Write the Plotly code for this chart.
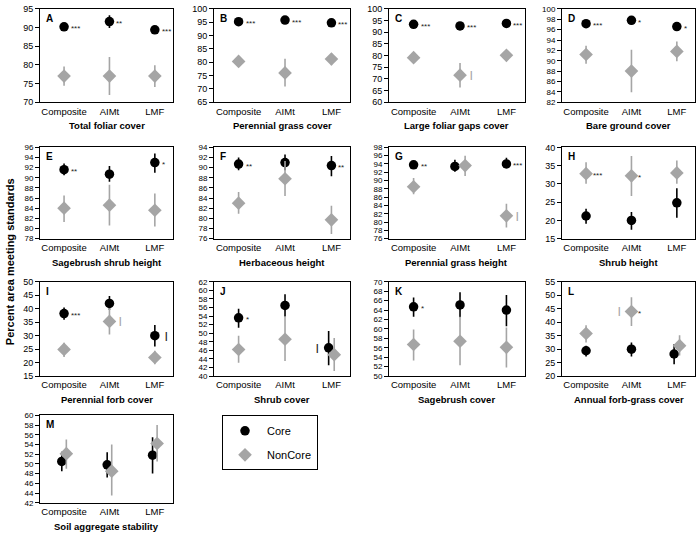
import plotly.graph_objects as go

W, H = 700, 546
FONT = "Liberation Sans, Arial, sans-serif"
GRAY = "#a5a5a5"

categories = ["Composite", "AIMt", "LMF"]
panel_ids = ["A", "B", "C", "D", "E", "F", "G", "H", "I", "J", "K", "L", "M"]
panel_titles = ["Total foliar cover", "Perennial grass cover", "Large foliar gaps cover",
                "Bare ground cover", "Sagebrush shrub height", "Herbaceous height",
                "Perennial grass height", "Shrub height", "Perennial forb cover",
                "Shrub cover", "Sagebrush cover", "Annual forb-grass cover",
                "Soil aggregate stability"]
y_ranges = [[70, 95], [65, 100], [60, 100], [82, 100], [78, 96], [76, 94], [76, 98],
            [15, 40], [15, 50], [40, 62], [50, 70], [20, 55], [42, 60]]
y_dticks = [5, 5, 5, 2, 2, 2, 2, 5, 5, 2, 2, 5, 2]

core_mean = [[90.2, 91.6, 89.4], [95.2, 95.8, 94.8], [93.4, 92.7, 93.8], [97.15, 97.8, 96.6],
             [91.6, 90.7, 93.0], [90.7, 91.0, 90.4], [93.8, 93.4, 94.0], [21.2, 20.0, 24.8],
             [38.2, 42.0, 30.0], [53.6, 56.5, 46.6], [64.7, 65.1, 64.0], [29.4, 30.0, 28.2],
             [50.5, 49.8, 51.8]]
core_low = [[89.4, 89.9, 88.6], [94.8, 95.4, 94.4], [93.0, 92.3, 93.4], [96.8, 97.0, 96.0],
            [90.5, 89.2, 91.0], [89.5, 89.5, 88.3], [93.0, 92.1, 93.0], [19.1, 17.4, 20.7],
            [35.9, 39.5, 26.0], [51.3, 53.8, 42.5], [62.6, 62.5, 60.6], [27.3, 27.3, 24.4],
            [48.5, 47.2, 48.0]]
core_high = [[91.0, 93.3, 90.3], [95.6, 96.2, 95.2], [93.8, 93.1, 94.2], [97.5, 98.4, 97.3],
             [92.8, 92.3, 94.8], [92.0, 92.6, 92.3], [94.6, 95.0, 95.5], [23.2, 22.3, 28.8],
             [40.5, 44.7, 34.0], [55.7, 59.1, 50.5], [66.7, 67.8, 67.2], [31.3, 32.5, 31.8],
             [52.5, 52.4, 55.5]]
non_mean = [[77.0, 77.0, 77.0], [80.3, 76.0, 81.2], [79.1, 71.6, 80.1], [91.2, 88.0, 91.8],
            [84.0, 84.6, 83.6], [83.0, 87.8, 79.7], [88.5, 93.6, 81.5], [32.8, 32.2, 33.0],
            [24.9, 35.3, 21.9], [46.2, 48.6, 45.0], [56.7, 57.4, 56.1], [35.8, 44.0, 31.3],
            [52.1, 48.5, 54.2]]
non_low = [[74.4, 71.9, 74.1], [78.3, 70.9, 78.9], [78.0, 66.3, 78.4], [89.4, 83.9, 89.9],
           [81.3, 80.6, 80.4], [80.9, 84.4, 76.9], [86.7, 91.1, 78.7], [30.0, 26.7, 30.0],
           [22.1, 30.4, 19.4], [43.1, 43.5, 41.2], [53.3, 52.3, 51.8], [32.5, 38.6, 27.6],
           [49.0, 43.5, 50.5]]
non_high = [[79.6, 82.1, 79.9], [82.2, 81.3, 83.3], [80.4, 76.8, 81.6], [92.9, 92.1, 93.7],
            [86.5, 88.6, 86.9], [85.2, 91.3, 82.5], [90.6, 96.0, 84.4], [35.9, 37.6, 36.4],
            [27.4, 40.2, 24.4], [49.4, 54.0, 48.9], [59.9, 62.6, 60.3], [38.9, 49.3, 35.2],
            [55.0, 54.0, 58.0]]

# significance marks: (panel, series, category index, text, side)
sig_marks = [
    ("A", "core", 0, "***", "r"), ("A", "core", 1, "**", "r"), ("A", "core", 2, "***", "r"),
    ("B", "core", 0, "***", "r"), ("B", "core", 1, "***", "r"), ("B", "core", 2, "***", "r"),
    ("C", "core", 0, "***", "r"), ("C", "core", 1, "***", "r"), ("C", "core", 2, "***", "r"),
    ("C", "non", 1, "|", "r"),
    ("D", "core", 0, "***", "r"), ("D", "core", 1, "*", "r"), ("D", "core", 2, "*", "r"),
    ("E", "core", 0, "**", "r"), ("E", "core", 2, "*", "r"),
    ("F", "core", 0, "**", "r"), ("F", "core", 2, "**", "r"),
    ("G", "core", 0, "**", "r"), ("G", "core", 2, "***", "r"), ("G", "non", 2, "|", "r"),
    ("H", "non", 0, "***", "r"), ("H", "non", 1, "*", "r"),
    ("I", "core", 0, "***", "r"), ("I", "non", 1, "|", "r"), ("I", "core", 2, "|", "r"),
    ("J", "core", 0, "*", "r"), ("J", "core", 2, "|", "l"),
    ("K", "core", 0, "*", "r"),
    ("L", "non", 1, "|", "l"), ("L", "non", 1, "*", "r"),
]

# style: small horizontal dodge where the two series overlap
dodge = {"G": {1: 0.11}, "J": {2: 0.06}, "L": {2: 0.06}, "M": {0: 0.05, 1: 0.05, 2: 0.05}}

col_px = [(40, 173), (214, 350), (389, 525), (562, 695)]
row_px = [(4, 99), (145, 238), (282, 378), (418, 507)]

fig = go.Figure()
layout = {}
annotations = []

for i, pid in enumerate(panel_ids):
    r, c = divmod(i, 4)
    x0, x1 = col_px[c]
    y0, y1 = row_px[r]
    n = i + 1
    xa = "xaxis" if n == 1 else f"xaxis{n}"
    ya = "yaxis" if n == 1 else f"yaxis{n}"
    xr = "x" if n == 1 else f"x{n}"
    yr = "y" if n == 1 else f"y{n}"
    off = dodge.get(pid, {})
    xs_core = [k - off.get(k, 0) for k in range(3)]
    xs_non = [k + off.get(k, 0) for k in range(3)]

    cm, cl, ch = core_mean[i], core_low[i], core_high[i]
    nm, nl, nh = non_mean[i], non_low[i], non_high[i]
    fig.add_trace(go.Scatter(
        x=xs_core, y=cm, mode="markers", name="Core", showlegend=(i == 0),
        legendgroup="core",
        marker=dict(symbol="circle", size=9.5, color="black"),
        error_y=dict(type="data", symmetric=False,
                     array=[h - m for h, m in zip(ch, cm)],
                     arrayminus=[m - l for m, l in zip(cm, cl)],
                     color="black", thickness=1.6, width=0),
        xaxis=xr, yaxis=yr))
    fig.add_trace(go.Scatter(
        x=xs_non, y=nm, mode="markers", name="NonCore", showlegend=(i == 0),
        legendgroup="non",
        marker=dict(symbol="diamond", size=10.5, color=GRAY),
        error_y=dict(type="data", symmetric=False,
                     array=[h - m for h, m in zip(nh, nm)],
                     arrayminus=[m - l for m, l in zip(nm, nl)],
                     color=GRAY, thickness=1.6, width=0),
        xaxis=xr, yaxis=yr))

    nticks = (y_ranges[i][1] - y_ranges[i][0]) / y_dticks[i]
    tsize = 8 if nticks > 8 else 9
    layout[xa] = dict(domain=[x0 / W, x1 / W], range=[-0.53, 2.4],
                      tickvals=[0, 1, 2], ticktext=categories, ticks="",
                      showline=True, linecolor="black", linewidth=1, mirror=True,
                      showgrid=False, zeroline=False, anchor=yr, fixedrange=True,
                      tickfont=dict(family=FONT, size=9.5, color="black"))
    layout[ya] = dict(domain=[1 - y1 / H, 1 - y0 / H], range=y_ranges[i],
                      dtick=y_dticks[i], tick0=0, ticks="outside", ticklen=4,
                      tickcolor="black", showline=True, linecolor="black",
                      linewidth=1, mirror=True, showgrid=False, zeroline=False,
                      anchor=xr, fixedrange=True,
                      tickfont=dict(family=FONT, size=tsize, color="black"))

    annotations.append(dict(text=f"<b>{panel_titles[i]}</b>", xref="paper", yref="paper",
                            x=(x0 + x1) / 2 / W, y=1 - (y1 + 24) / H,
                            xanchor="center", yanchor="middle", showarrow=False,
                            font=dict(family=FONT, size=9.5, color="black")))
    annotations.append(dict(text=f"<b>{pid}</b>", xref="paper", yref="paper",
                            x=(x0 + 4) / W, y=1 - (y0 + 2) / H,
                            xanchor="left", yanchor="top", showarrow=False,
                            font=dict(family=FONT, size=10, color="black")))

    for (p, series, k, txt, side) in sig_marks:
        if p != pid:
            continue
        if series == "core":
            xv, yv = xs_core[k], cm[k]
            col = "#222222"
        else:
            xv, yv = xs_non[k], nm[k]
            col = GRAY if txt == "|" else "#222222"
        is_bar = txt == "|"
        sgn = 1 if side == "r" else -1
        annotations.append(dict(
            text=f"<b>{txt}</b>" if is_bar else txt, xref=xr, yref=yr, x=xv, y=yv,
            xanchor="left" if side == "r" else "right", yanchor="middle",
            xshift=sgn * (8 if is_bar else 5),
            yshift=(0 if is_bar else -2), showarrow=False,
            font=dict(family=FONT, size=(9 if is_bar else 8), color=col)))

annotations.append(dict(text="<b>Percent area meeting standards</b>", xref="paper", yref="paper",
                        x=10 / W, y=1 - 262 / H, textangle=-90, showarrow=False,
                        xanchor="center", yanchor="middle",
                        font=dict(family=FONT, size=11, color="black")))

fig.update_layout(
    width=W, height=H, margin=dict(l=0, r=0, t=0, b=0),
    paper_bgcolor="white", plot_bgcolor="white",
    annotations=annotations,
    legend=dict(x=222 / W, y=1 - 418 / H, xanchor="left", yanchor="top",
                bordercolor="black", borderwidth=1, bgcolor="white",
                font=dict(family=FONT, size=11, color="black"),
                tracegroupgap=5, itemwidth=34),
    **layout)

fig.write_html("out.html")
